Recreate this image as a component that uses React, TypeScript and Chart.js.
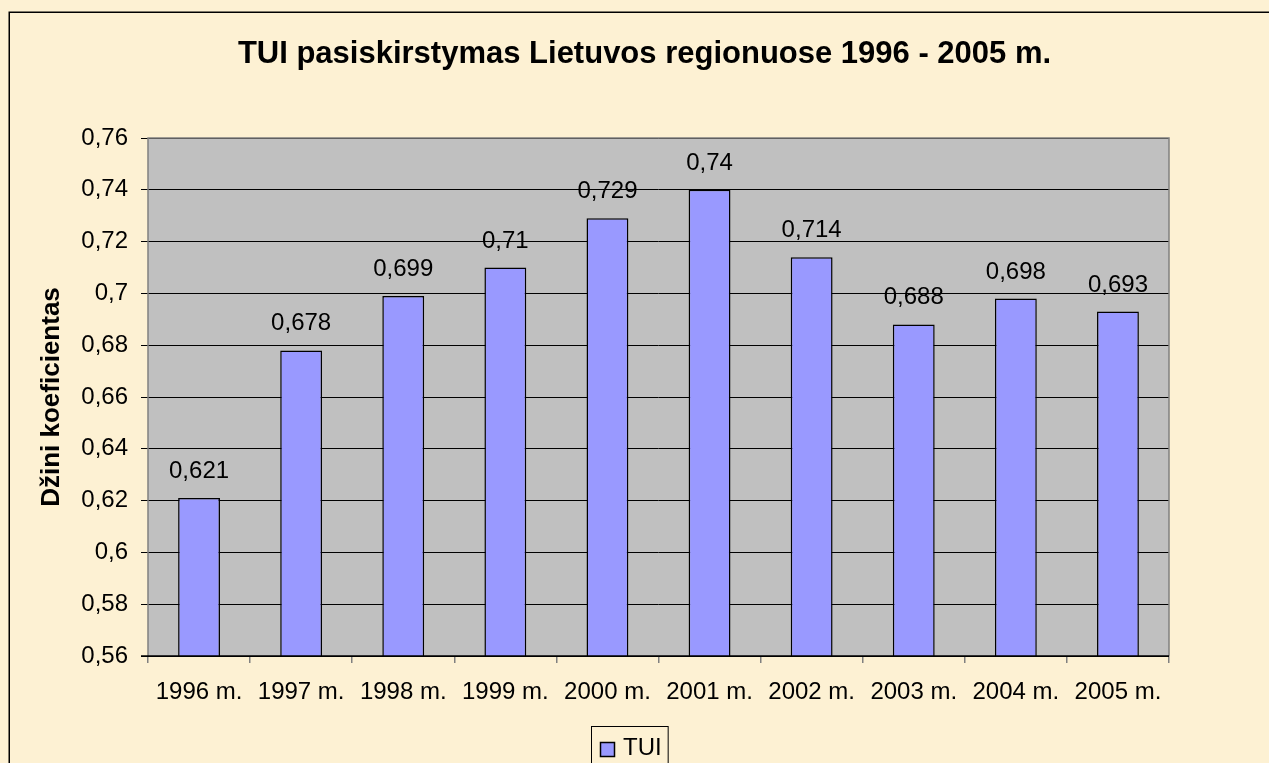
import React, { useEffect, useRef } from "react";
import { Chart, registerables } from "chart.js";

Chart.register(...registerables);

const categories = [
  "1996 m.", "1997 m.", "1998 m.", "1999 m.", "2000 m.",
  "2001 m.", "2002 m.", "2003 m.", "2004 m.", "2005 m.",
];
const tuiValues = [0.621, 0.678, 0.699, 0.71, 0.729, 0.74, 0.714, 0.688, 0.698, 0.693];
const seriesLabel = "TUI";
const chartTitle = "TUI pasiskirstymas Lietuvos regionuose 1996 - 2005 m.";
const yAxisTitle = "Džini koeficientas";
const yMin = 0.56;
const yMax = 0.76;
const yStep = 0.02;

const FONT = "'Liberation Sans', Arial, sans-serif";
const CREAM = "#FDF1D3";
const PLOT_GRAY = "#C0C0C0";
const BAR_COLOR = "#9999FF";

const fmtComma = (v: number, digits: number) => {
  const r = Math.round(v * Math.pow(10, digits)) / Math.pow(10, digits);
  return r.toString().replace(".", ",");
};

const backgroundPlugin = {
  id: "bgPlugin",
  beforeDraw(chart: any) {
    const { ctx, width, height, chartArea } = chart;
    ctx.save();
    ctx.fillStyle = CREAM;
    ctx.fillRect(0, 0, width, height);
    ctx.strokeStyle = "#000";
    ctx.lineWidth = 1.5;
    ctx.beginPath();
    ctx.moveTo(9.25, height + 5);
    ctx.lineTo(9.25, 12.25);
    ctx.lineTo(width + 5, 12.25);
    ctx.stroke();
    ctx.fillStyle = PLOT_GRAY;
    ctx.fillRect(chartArea.left, chartArea.top, chartArea.right - chartArea.left, chartArea.bottom - chartArea.top);
    ctx.restore();
  },
};

const framePlugin = {
  id: "framePlugin",
  afterDatasetsDraw(chart: any) {
    const { ctx, chartArea } = chart;
    const { left, right, top, bottom } = chartArea;
    ctx.save();
    const meta = chart.getDatasetMeta(0);
    const data = chart.data.datasets[0].data as number[];
    ctx.fillStyle = "#000";
    ctx.font = `24px ${FONT}`;
    ctx.textAlign = "center";
    ctx.textBaseline = "alphabetic";
    meta.data.forEach((bar: any, i: number) => {
      ctx.fillText(fmtComma(data[i], 3), bar.x, bar.y - 20);
    });
    ctx.strokeStyle = "#808080";
    ctx.lineWidth = 1.5;
    ctx.beginPath();
    ctx.moveTo(left, bottom);
    ctx.lineTo(left, top);
    ctx.lineTo(right, top);
    ctx.lineTo(right, bottom);
    ctx.stroke();
    ctx.strokeStyle = "#000";
    ctx.lineWidth = 1.5;
    ctx.beginPath();
    ctx.moveTo(left - 7, bottom);
    ctx.lineTo(right, bottom);
    ctx.stroke();
    ctx.restore();
  },
  afterDraw(chart: any) {
    const { ctx, width, height } = chart;
    const ds = chart.data.datasets[0];
    ctx.save();
    ctx.fillStyle = CREAM;
    ctx.fillRect(width - 20, 14, 20, height - 14);
    ctx.font = `24px ${FONT}`;
    const tw = ctx.measureText(ds.label).width;
    const boxLeft = 591;
    const boxTop = 726;
    const boxW = 9 + 15 + 8 + tw + 6;
    ctx.strokeStyle = "#000";
    ctx.lineWidth = 1;
    ctx.strokeRect(boxLeft + 0.5, boxTop + 0.5, boxW, 60);
    ctx.fillStyle = BAR_COLOR;
    ctx.fillRect(boxLeft + 9.5, 742.5, 14, 14);
    ctx.lineWidth = 1.5;
    ctx.strokeRect(boxLeft + 9.5, 742.5, 14, 14);
    ctx.fillStyle = "#000";
    ctx.textAlign = "left";
    ctx.textBaseline = "alphabetic";
    ctx.fillText(ds.label, boxLeft + 32, 755);
    ctx.restore();
  },
};

export default function App() {
  const canvasRef = useRef<HTMLCanvasElement | null>(null);

  useEffect(() => {
    if (!canvasRef.current) return;
    const chart = new Chart(canvasRef.current, {
      type: "bar",
      data: {
        labels: categories,
        datasets: [
          {
            label: seriesLabel,
            data: tuiValues,
            backgroundColor: BAR_COLOR,
            borderColor: "#000",
            borderWidth: 1.5,
            borderSkipped: false,
            barPercentage: 0.41,
            categoryPercentage: 1,
          },
        ],
      },
      options: {
        responsive: false,
        animation: false,
        devicePixelRatio: 1,
        layout: { padding: { left: 20, right: 0, top: 12, bottom: 47 } },
        plugins: {
          legend: { display: false },
          tooltip: { enabled: false },
          title: {
            display: true,
            text: chartTitle,
            color: "#000",
            font: { family: FONT, size: 31, weight: "bold" },
            padding: { top: 24, bottom: 64.8 },
          },
        },
        scales: {
          x: {
            type: "category",
            offset: true,
            border: { display: false },
            grid: {
              display: true,
              drawOnChartArea: false,
              drawTicks: true,
              offset: true,
              tickLength: 7,
              color: "#808080",
              lineWidth: 1.5,
            },
            ticks: {
              color: "#000",
              font: { family: FONT, size: 24 },
              padding: 15,
              maxRotation: 0,
              autoSkip: false,
            },
            afterFit: (s: any) => {
              s.height = 60;
              s.paddingRight = 100;
            },
          },
          y: {
            type: "linear",
            position: "left",
            min: yMin,
            max: yMax,
            border: { display: false },
            grid: {
              color: "#000",
              lineWidth: 1,
              tickLength: 7,
              drawTicks: true,
            },
            ticks: {
              stepSize: yStep,
              color: "#000",
              font: { family: FONT, size: 24 },
              padding: 13,
              callback: (v: any) => fmtComma(Number(v), 2),
            },
            title: {
              display: true,
              text: yAxisTitle,
              color: "#000",
              font: { family: FONT, size: 26, weight: "bold" },
              padding: { top: 16, bottom: 0 },
            },
            afterFit: (s: any) => {
              s.width = 128;
            },
          },
        },
      },
      plugins: [backgroundPlugin, framePlugin],
    });
    return () => chart.destroy();
  }, []);

  return (
    <div style={{ position: "fixed", left: 0, top: 0, width: 1269, height: 763 }}>
      <canvas ref={canvasRef} width={1269} height={763} />
    </div>
  );
}
